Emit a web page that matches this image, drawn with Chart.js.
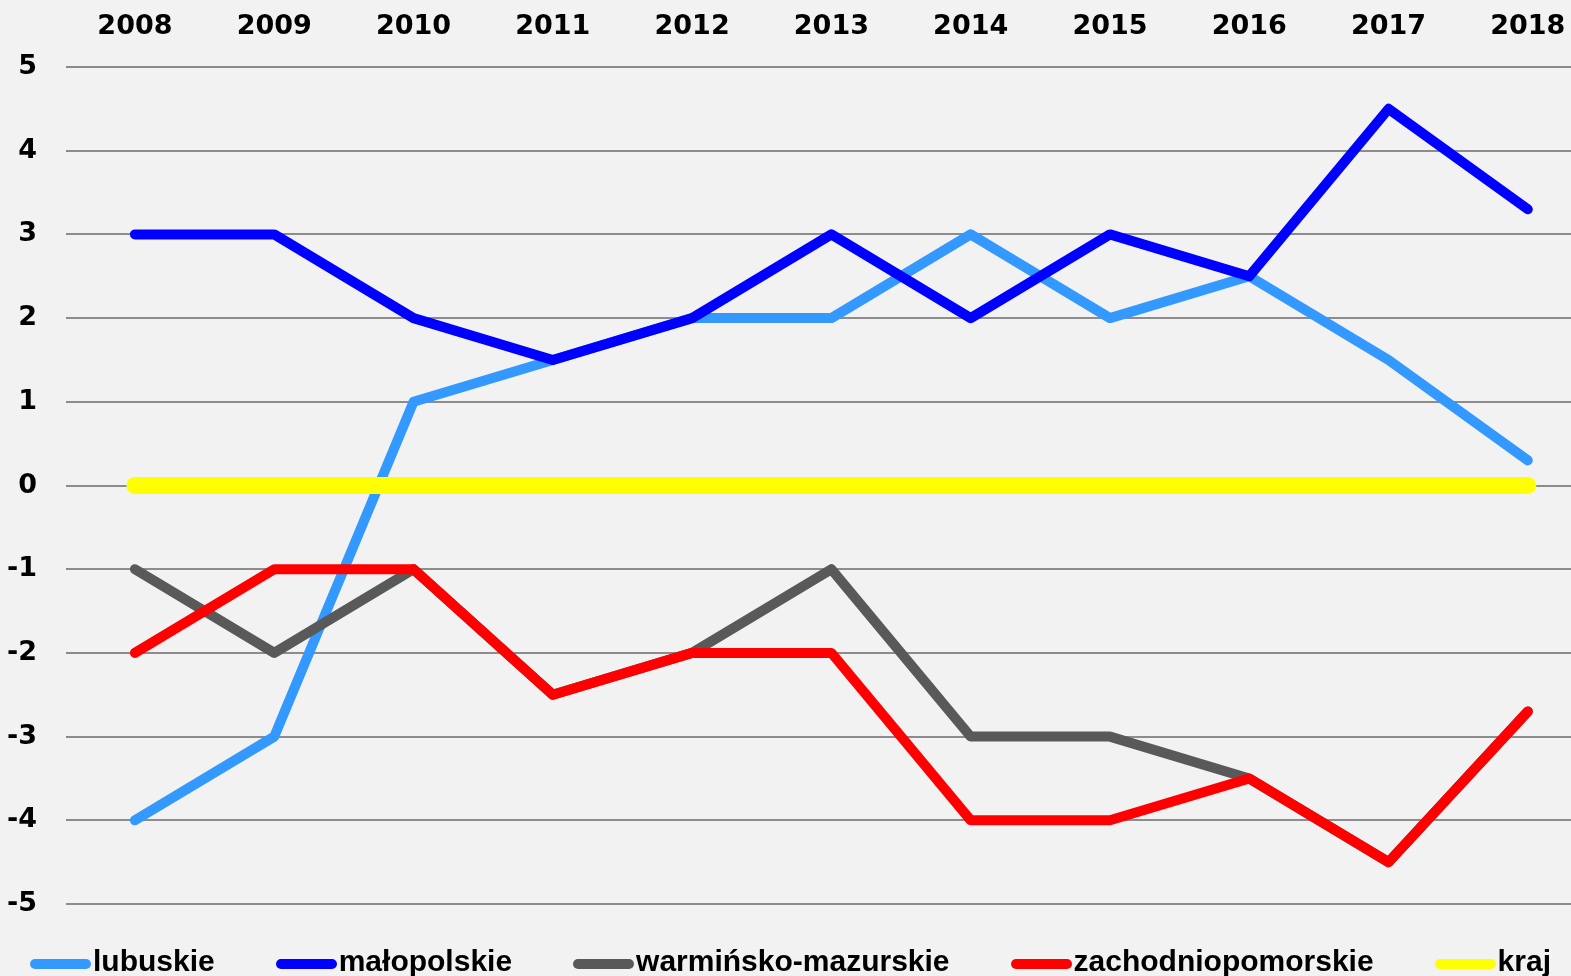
<!DOCTYPE html>
<html>
<head>
<meta charset="utf-8">
<script src="https://cdn.jsdelivr.net/npm/chart.js@4.4.0/dist/chart.umd.min.js"></script>
<style>
  html, body { margin: 0; padding: 0; background: #f2f2f2; overflow: hidden; }
  #wrap { position: relative; width: 1571px; height: 976px; }
  #legend {
    position: absolute; left: 10px; top: 946px; width: 1561px; height: 30px;
    display: flex; justify-content: center; gap: 61px;
    font: bold 30px "Liberation Sans", Arial, sans-serif; color: #000;
  }
  .item { display: flex; align-items: center; white-space: nowrap; }
  .sw { width: 61px; height: 10px; border-radius: 5px; margin-right: 2px; margin-top: 5px; }
</style>
</head>
<body>
<div id="wrap">
  <canvas id="chart" width="1571" height="976"></canvas>
  <div id="legend"></div>
</div>
<script>
  const years = [2008, 2009, 2010, 2011, 2012, 2013, 2014, 2015, 2016, 2017, 2018];
  const seriesNames = ['lubuskie', 'małopolskie', 'warmińsko-mazurskie', 'zachodniopomorskie', 'kraj'];
  const seriesColors = ['#3399ff', '#0000ff', '#595959', '#ff0000', '#ffff00'];

  const lubuskie = [-4, -3, 1, 1.5, 2, 2, 3, 2, 2.5, 1.5, 0.3];
  const malopolskie = [3, 3, 2, 1.5, 2, 3, 2, 3, 2.5, 4.5, 3.3];
  const warminskoMazurskie = [-1, -2, -1, -2.5, -2, -1, -3, -3, -3.5, -4.5, -2.7];
  const zachodniopomorskie = [-2, -1, -1, -2.5, -2, -2, -4, -4, -3.5, -4.5, -2.7];
  const kraj = [0, 0, 0, 0, 0, 0, 0, 0, 0, 0, 0];

  const seriesValues = [lubuskie, malopolskie, warminskoMazurskie, zachodniopomorskie, kraj];

  const datasets = seriesNames.map((name, i) => ({
    label: name,
    data: years.map((yr, j) => ({ x: yr, y: seriesValues[i][j] })),
    borderColor: seriesColors[i],
    backgroundColor: seriesColors[i],
    borderWidth: name === 'kraj' ? 17 : 10,
    borderCapStyle: 'round',
    borderJoinStyle: 'round',
    pointRadius: 0,
    tension: 0,
    order: seriesNames.length - i
  }));

  const axisFont = { family: '"DejaVu Sans", Arial, sans-serif', size: 27, weight: 'bold' };

  new Chart(document.getElementById('chart'), {
    type: 'line',
    data: { datasets },
    options: {
      responsive: false,
      animation: false,
      devicePixelRatio: 1,
      layout: { padding: { top: 0, right: 0, bottom: 72, left: 0 } },
      plugins: { legend: { display: false }, tooltip: { enabled: false } },
      scales: {
        x: {
          type: 'linear',
          position: 'top',
          min: 2007.505,
          max: 2018.31,
          afterBuildTicks: s => { s.ticks = years.map(v => ({ value: v })); },
          afterFit: s => { s.height = 67; s.paddingLeft = 0; s.paddingRight = 0; },
          grid: { display: false, drawTicks: false },
          border: { display: false },
          ticks: {
            color: '#000', font: axisFont, padding: 24, maxRotation: 0,
            callback: v => String(v)
          }
        },
        y: {
          min: -5,
          max: 5,
          afterFit: s => { s.width = 66; s.paddingTop = 0; s.paddingBottom = 0; },
          grid: { color: '#8c8c8c', lineWidth: 2, drawTicks: false },
          border: { display: false },
          ticks: { stepSize: 1, color: '#000', font: axisFont, padding: 29 }
        }
      }
    }
  });

  const legend = document.getElementById('legend');
  seriesNames.forEach((name, i) => {
    const item = document.createElement('div');
    item.className = 'item';
    const sw = document.createElement('span');
    sw.className = 'sw';
    sw.style.background = seriesColors[i];
    const txt = document.createElement('span');
    txt.textContent = name;
    item.appendChild(sw);
    item.appendChild(txt);
    legend.appendChild(item);
  });
</script>
</body>
</html>
